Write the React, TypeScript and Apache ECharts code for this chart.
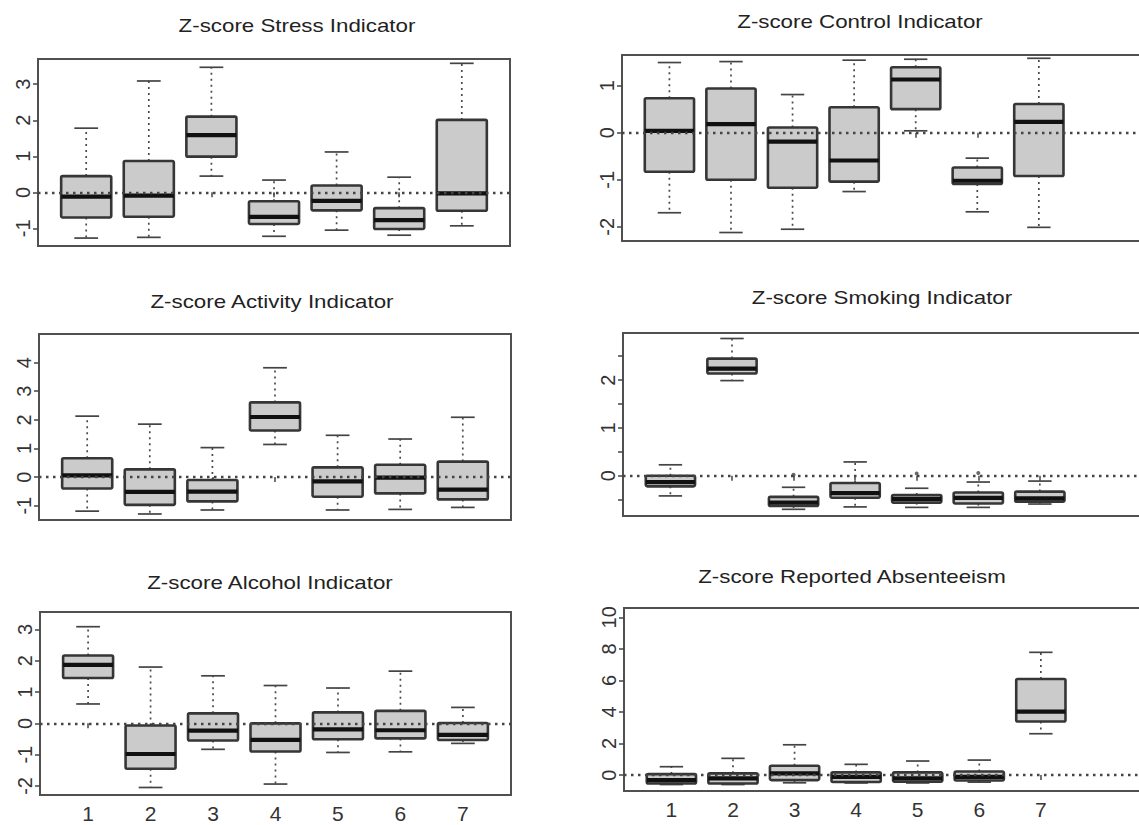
import React, { useEffect, useRef } from 'react';
import * as echarts from 'echarts';

// ---------- data (min, Q1, median, Q3, max) per group ----------
const categories = [1, 2, 3, 4, 5, 6, 7];

const stressBoxes = [
  [-1.27, -0.70, -0.12, 0.45, 1.78],
  [-1.25, -0.68, -0.09, 0.87, 3.09],
  [0.45, 0.99, 1.59, 2.10, 3.47],
  [-1.22, -0.88, -0.68, -0.25, 0.34],
  [-1.05, -0.50, -0.24, 0.19, 1.12],
  [-1.19, -1.02, -0.77, -0.44, 0.42],
  [-0.93, -0.51, -0.03, 2.01, 3.58],
];
const controlBoxes = [
  [-1.70, -0.83, 0.04, 0.73, 1.49],
  [-2.12, -1.00, 0.18, 0.94, 1.51],
  [-2.05, -1.17, -0.19, 0.11, 0.81],
  [-1.25, -1.04, -0.59, 0.54, 1.54],
  [0.04, 0.50, 1.13, 1.39, 1.56],
  [-1.68, -1.09, -1.02, -0.74, -0.54],
  [-2.01, -0.92, 0.23, 0.61, 1.58],
];
const activityBoxes = [
  [-1.19, -0.40, 0.06, 0.66, 2.13],
  [-1.29, -0.97, -0.52, 0.27, 1.85],
  [-1.15, -0.85, -0.51, -0.10, 1.03],
  [1.14, 1.63, 2.10, 2.61, 3.82],
  [-1.15, -0.69, -0.15, 0.34, 1.46],
  [-1.13, -0.57, -0.02, 0.43, 1.33],
  [-1.06, -0.78, -0.44, 0.54, 2.09],
];
const smokingBoxes = [
  [-0.42, -0.22, -0.13, 0.0, 0.23],
  [1.99, 2.14, 2.24, 2.45, 2.87],
  [-0.70, -0.63, -0.56, -0.44, -0.24],
  [-0.65, -0.46, -0.36, -0.15, 0.29],
  [-0.66, -0.56, -0.48, -0.40, -0.26],
  [-0.66, -0.58, -0.46, -0.35, -0.13],
  [-0.59, -0.54, -0.47, -0.33, -0.11],
];
const smokingOutliers = [
  [3, 0.02],
  [5, 0.05],
  [6, 0.06],
];
const alcoholBoxes = [
  [0.62, 1.45, 1.87, 2.17, 3.09],
  [-2.05, -1.45, -0.98, -0.07, 1.80],
  [-0.83, -0.55, -0.23, 0.32, 1.52],
  [-1.94, -0.90, -0.53, 0.0, 1.21],
  [-0.93, -0.51, -0.19, 0.35, 1.13],
  [-0.91, -0.48, -0.22, 0.40, 1.67],
  [-0.64, -0.53, -0.37, 0.01, 0.51],
];
const absentBoxes = [
  [-0.60, -0.53, -0.32, 0.06, 0.53],
  [-0.60, -0.53, -0.21, 0.11, 1.06],
  [-0.49, -0.32, 0.11, 0.59, 1.92],
  [-0.50, -0.44, -0.11, 0.17, 0.68],
  [-0.50, -0.42, -0.21, 0.17, 0.89],
  [-0.45, -0.34, -0.11, 0.23, 0.95],
  [2.62, 3.40, 4.02, 6.09, 7.78],
];

const referenceLevel = 0;

const titles = [
  'Z-score Stress Indicator',
  'Z-score Control Indicator',
  'Z-score Activity Indicator',
  'Z-score Smoking Indicator',
  'Z-score Alcohol Indicator',
  'Z-score Reported Absenteeism',
];

const stressTicks = [-1, 0, 1, 2, 3];
const controlTicks = [-2, -1, 0, 1];
const activityTicks = [-1, 0, 1, 2, 3, 4];
const smokingLabels = [0, 1, 2];
const smokingTicks = [-0.5, 0, 0.5, 1, 1.5, 2, 2.5];
const alcoholTicks = [-2, -1, 0, 1, 2, 3];
const absentTicks = [0, 2, 4, 6, 8, 10];

// ---------- layout / style ----------
const FONT = '"Liberation Sans", Arial, Helvetica, sans-serif';
const BOX_HALF = 0.4;
const CAP_HALF = 0.19;

const panels = [
  { boxes: stressBoxes, yLabels: stressTicks, yTicks: stressTicks, yMin: -1.49, yMax: 3.70, grid: { left: 38, top: 59, width: 472, height: 187 }, xMin: 0.23, xMax: 7.77, titlePos: [297, 25.5], showX: false },
  { boxes: controlBoxes, yLabels: controlTicks, yTicks: controlTicks, yMin: -2.30, yMax: 1.65, grid: { left: 622, top: 55, width: 540, height: 186 }, xMin: 0.23, xMax: 9.0, titlePos: [860, 21.5], showX: false },
  { boxes: activityBoxes, yLabels: activityTicks, yTicks: activityTicks, yMin: -1.50, yMax: 5.0, grid: { left: 39, top: 334, width: 472, height: 186 }, xMin: 0.23, xMax: 7.77, titlePos: [272, 302], showX: false },
  { boxes: smokingBoxes, yLabels: smokingLabels, yTicks: smokingTicks, yMin: -0.84, yMax: 2.985, grid: { left: 623, top: 333, width: 540, height: 183 }, xMin: 0.23, xMax: 9.0, titlePos: [882, 297.5], showX: false },
  { boxes: alcoholBoxes, yLabels: alcoholTicks, yTicks: alcoholTicks, yMin: -2.29, yMax: 3.56, grid: { left: 40, top: 612, width: 471, height: 183 }, xMin: 0.23, xMax: 7.77, titlePos: [270, 583], showX: true },
  { boxes: absentBoxes, yLabels: absentTicks, yTicks: absentTicks, yMin: -1.01, yMax: 10.59, grid: { left: 624, top: 608, width: 540, height: 183 }, xMin: 0.23, xMax: 9.0, titlePos: [852, 577], showX: true },
];

const renderBox = (params: any, api: any) => {
  const x = api.value(0);
  const lo = api.value(1);
  const q1 = api.value(2);
  const med = api.value(3);
  const q3 = api.value(4);
  const hi = api.value(5);
  const pHi = api.coord([x, hi]);
  const pQ3 = api.coord([x, q3]);
  const pQ1 = api.coord([x, q1]);
  const pLo = api.coord([x, lo]);
  const tl = api.coord([x - BOX_HALF, q3]);
  const br = api.coord([x + BOX_HALF, q1]);
  const mL = api.coord([x - BOX_HALF, med]);
  const mR = api.coord([x + BOX_HALF, med]);
  const cHiL = api.coord([x - CAP_HALF, hi]);
  const cHiR = api.coord([x + CAP_HALF, hi]);
  const cLoL = api.coord([x - CAP_HALF, lo]);
  const cLoR = api.coord([x + CAP_HALF, lo]);
  const whisker = { stroke: '#4a4a4a', lineWidth: 1.7, lineDash: [2, 4] };
  const cap = { stroke: '#444', lineWidth: 1.7 };
  return {
    type: 'group',
    children: [
      { type: 'line', shape: { x1: pQ3[0], y1: pQ3[1], x2: pHi[0], y2: pHi[1] }, style: whisker },
      { type: 'line', shape: { x1: pQ1[0], y1: pQ1[1], x2: pLo[0], y2: pLo[1] }, style: whisker },
      { type: 'line', shape: { x1: cHiL[0], y1: cHiL[1], x2: cHiR[0], y2: cHiR[1] }, style: cap },
      { type: 'line', shape: { x1: cLoL[0], y1: cLoL[1], x2: cLoR[0], y2: cLoR[1] }, style: cap },
      {
        type: 'rect',
        shape: { x: tl[0], y: tl[1], width: br[0] - tl[0], height: br[1] - tl[1], r: 1.5 },
        style: { fill: '#cbcbcb', stroke: '#363636', lineWidth: 2.6 },
      },
      { type: 'line', shape: { x1: mL[0], y1: mL[1], x2: mR[0], y2: mR[1] }, style: { stroke: '#111', lineWidth: 4.2 } },
    ],
  };
};

export default function App() {
  const ref = useRef<HTMLDivElement>(null);
  useEffect(() => {
    if (!ref.current) return;
    const chart = echarts.init(ref.current, null, { renderer: 'svg' });
    const grids: any[] = [];
    const xAxes: any[] = [];
    const yAxes: any[] = [];
    const series: any[] = [];
    const graphics: any[] = [];
    panels.forEach((p, i) => {
      grids.push({
        ...p.grid,
        show: true,
        borderColor: '#505050',
        borderWidth: 2,
        backgroundColor: 'transparent',
      });
      xAxes.push({
        gridIndex: i,
        type: 'value',
        min: p.xMin,
        max: p.xMax,
        axisLine: { show: false },
        splitLine: { show: false },
        axisTick: { show: true, length: 5, customValues: categories, lineStyle: { color: '#444', width: 1.5 } },
        axisLabel: {
          show: p.showX,
          customValues: categories,
          fontFamily: FONT,
          fontSize: 21,
          color: '#333',
          margin: 8,
        },
      });
      yAxes.push({
        gridIndex: i,
        type: 'value',
        min: p.yMin,
        max: p.yMax,
        axisLine: { show: false },
        splitLine: { show: false },
        axisTick: { show: true, length: 5, customValues: p.yTicks, lineStyle: { color: '#444', width: 1.5 } },
        axisLabel: {
          customValues: p.yLabels,
          rotate: 90,
          fontFamily: FONT,
          fontSize: 20,
          color: '#333',
          margin: 5,
        },
      });
      series.push({
        type: 'custom',
        xAxisIndex: i,
        yAxisIndex: i,
        renderItem: renderBox,
        encode: { x: 0, y: [1, 2, 3, 4, 5] },
        data: categories.map((c, k) => [c, ...p.boxes[k]]),
        silent: true,
        z: 2,
      });
      // reference line drawn on top of the boxes
      series.push({
        type: 'scatter',
        xAxisIndex: i,
        yAxisIndex: i,
        data: [],
        silent: true,
        z: 10,
        markLine: {
          silent: true,
          symbol: ['none', 'none'],
          label: { show: false },
          lineStyle: { type: [2.5, 4.5], color: '#444', width: 2.4 },
          data: [{ yAxis: referenceLevel }],
        },
      });
      graphics.push({
        type: 'text',
        x: p.titlePos[0],
        y: p.titlePos[1],
        scaleX: 1.24,
        style: {
          text: titles[i],
          font: `18px ${FONT}`,
          fill: '#222',
          textAlign: 'center',
          textVerticalAlign: 'middle',
        },
      });
    });
    series.push({
      type: 'scatter',
      xAxisIndex: 3,
      yAxisIndex: 3,
      data: smokingOutliers,
      symbolSize: 4,
      itemStyle: { color: '#444' },
      silent: true,
      z: 6,
    });
    chart.setOption({
      animation: false,
      backgroundColor: '#fff',
      grid: grids,
      xAxis: xAxes,
      yAxis: yAxes,
      series,
      graphic: graphics,
    });
    return () => chart.dispose();
  }, []);
  return (
    <div style={{ position: 'absolute', left: 0, top: 0, width: 1139, height: 825, overflow: 'hidden', background: '#fff' }}>
      <div ref={ref} style={{ width: 1175, height: 825 }} />
    </div>
  );
}
